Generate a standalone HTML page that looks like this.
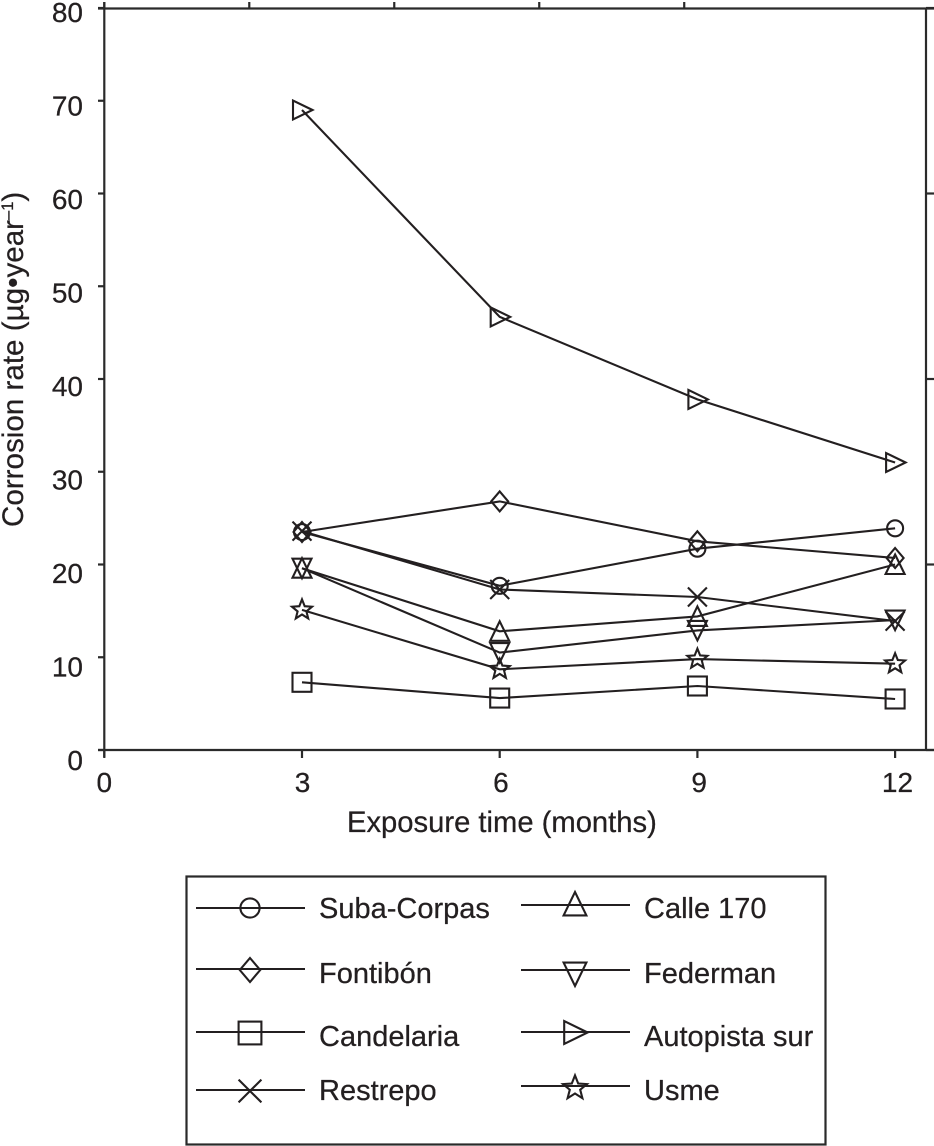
<!DOCTYPE html>
<html lang="en">
<head>
<meta charset="utf-8">
<title>Corrosion rate vs exposure time</title>
<style>
  html, body { margin: 0; padding: 0; background: #fff; }
  svg { display: block; }
  text { font-family: "Liberation Sans", Arial, sans-serif; fill: #231f20; stroke: #231f20; stroke-width: 0.25; }
</style>
</head>
<body>
<svg id="chart" xmlns="http://www.w3.org/2000/svg" width="934" height="1146" viewBox="0 0 934 1146">
  <rect x="0" y="0" width="934" height="1146" fill="#fff"/>
  <g id="axes"></g>
  <g id="series"></g>

  <text x="347" y="832" font-size="29.2">Exposure time (months)</text>
  <text transform="translate(23,527) rotate(-90)" font-size="29.6">Corrosion rate (µg•year<tspan dy="-10" font-size="16.5">–1</tspan><tspan dy="10">)</tspan></text>

  <g>
    <rect x="186.5" y="876.5" width="639" height="268" fill="none" stroke="#2a2a2a" stroke-width="2.2"/>

    <g>
      <line x1="196" x2="305" y1="908" y2="908" stroke="#231f20" stroke-width="2"/>
      <g class="legend-marker" data-kind="circle" data-x="250" data-y="908"></g>
      <text x="319" y="918" font-size="29">Suba-Corpas</text>
    </g>
    <g>
      <line x1="196" x2="305" y1="969" y2="969" stroke="#231f20" stroke-width="2"/>
      <g class="legend-marker" data-kind="diamond" data-x="250" data-y="970"></g>
      <text x="319" y="983" font-size="29">Fontibón</text>
    </g>
    <g>
      <line x1="196" x2="305" y1="1032" y2="1032" stroke="#231f20" stroke-width="2"/>
      <g class="legend-marker" data-kind="square" data-x="250" data-y="1033"></g>
      <text x="319" y="1046" font-size="29">Candelaria</text>
    </g>
    <g>
      <line x1="196" x2="305" y1="1090" y2="1090" stroke="#231f20" stroke-width="2"/>
      <g class="legend-marker" data-kind="cross" data-x="250" data-y="1091"></g>
      <text x="319" y="1100" font-size="29">Restrepo</text>
    </g>

    <g>
      <line x1="521" x2="630" y1="905" y2="905" stroke="#231f20" stroke-width="2"/>
      <g class="legend-marker" data-kind="triUp" data-x="575" data-y="904"></g>
      <text x="644" y="918" font-size="29">Calle 170</text>
    </g>
    <g>
      <line x1="521" x2="630" y1="970" y2="970" stroke="#231f20" stroke-width="2"/>
      <g class="legend-marker" data-kind="triDown" data-x="575" data-y="974"></g>
      <text x="644" y="983" font-size="29">Federman</text>
    </g>
    <g>
      <line x1="521" x2="630" y1="1032" y2="1032" stroke="#231f20" stroke-width="2"/>
      <g class="legend-marker" data-kind="triRight" data-x="575" data-y="1032.5"></g>
      <text x="644" y="1046" font-size="29">Autopista sur</text>
    </g>
    <g>
      <line x1="521" x2="630" y1="1086" y2="1086" stroke="#231f20" stroke-width="2"/>
      <g class="legend-marker" data-kind="star" data-x="575" data-y="1088"></g>
      <text x="644" y="1100" font-size="29">Usme</text>
    </g>
  </g>
</svg>

<script>
// Chart data
const months = [3, 6, 9, 12];
const subaCorpas = [23.5, 17.7, 21.7, 23.9];
const fontibon = [23.5, 26.8, 22.5, 20.7];
const candelaria = [7.3, 5.6, 6.9, 5.5];
const restrepo = [23.6, 17.3, 16.5, 13.9];
const calle170 = [19.6, 12.8, 14.4, 20.0];
const federman = [19.6, 10.5, 12.9, 14.0];
const autopistaSur = [69.0, 46.7, 37.8, 31.0];
const usme = [15.1, 8.7, 9.8, 9.3];

const xTickLabels = [0, 3, 6, 9, 12];
const yTickLabels = [0, 10, 20, 30, 40, 50, 60, 70, 80];
const rightTickValues = [0, 20, 40, 60, 80];
const topTickValues = [0, 2.2, 4.4, 6.6, 8.8];

const NS = 'http://www.w3.org/2000/svg';
const INK = '#231f20';
const AXIS = '#2a2a2a';

function xScale(m) { return 104.3 + 65.9 * m; }
function yScale(v) { return 750 - 9.275 * v; }
function yLabelBaseline(v) { return 770 - 9.35 * v; }

function make(tag, attrs, parent) {
  const el = document.createElementNS(NS, tag);
  for (const k in attrs) el.setAttribute(k, attrs[k]);
  parent.appendChild(el);
  return el;
}

function pts(list) { return list.map(function (p) { return p[0].toFixed(1) + ',' + p[1].toFixed(1); }).join(' '); }

function drawMarker(parent, kind, cx, cy, s) {
  const st = { fill: 'none', stroke: INK, 'stroke-width': 2.1 };
  const at = function (o) { return Object.assign({}, st, o); };
  if (kind === 'circle') {
    make('circle', at({ cx: cx, cy: cy, r: 8 * s }), parent);
  } else if (kind === 'diamond') {
    make('polygon', at({ points: pts([[cx, cy - 10 * s], [cx + 8.5 * s, cy], [cx, cy + 10 * s], [cx - 8.5 * s, cy]]) }), parent);
  } else if (kind === 'square') {
    make('rect', at({ x: cx - 9.5 * s, y: cy - 9.5 * s, width: 19 * s, height: 19 * s }), parent);
  } else if (kind === 'cross') {
    make('path', at({ d: 'M' + (cx - 9.5 * s) + ' ' + (cy - 9.5 * s) + 'L' + (cx + 9.5 * s) + ' ' + (cy + 9.5 * s) + 'M' + (cx + 9.5 * s) + ' ' + (cy - 9.5 * s) + 'L' + (cx - 9.5 * s) + ' ' + (cy + 9.5 * s) }), parent);
  } else if (kind === 'triUp') {
    make('polygon', at({ points: pts([[cx, cy - 10 * s], [cx + 9.5 * s, cy + 9.5 * s], [cx - 9.5 * s, cy + 9.5 * s]]) }), parent);
  } else if (kind === 'triDown') {
    make('polygon', at({ points: pts([[cx, cy + 10 * s], [cx + 9.5 * s, cy - 9.5 * s], [cx - 9.5 * s, cy - 9.5 * s]]) }), parent);
  } else if (kind === 'triRight') {
    make('polygon', at({ points: pts([[cx + 10.5 * s, cy], [cx - 9 * s, cy - 9.5 * s], [cx - 9 * s, cy + 9.5 * s]]) }), parent);
  } else if (kind === 'star') {
    const p = [];
    for (let i = 0; i < 10; i++) {
      const r = (i % 2 === 0 ? 10.5 : 4.6) * s;
      const a = -Math.PI / 2 + i * Math.PI / 5;
      p.push([cx + r * Math.cos(a), cy + r * Math.sin(a)]);
    }
    make('polygon', at({ points: pts(p) }), parent);
  }
}

// Axes
const axes = document.getElementById('axes');
const frame = [
  ['axis-left', 104.3, 2, 104.3, 757],
  ['axis-top', 98, 8.5, 934, 8.5],
  ['axis-bottom', 98, 750, 934, 750],
  ['axis-right', 926, 8.5, 926, 750]
];
frame.forEach(function (f) {
  const l = make('line', { x1: f[1], y1: f[2], x2: f[3], y2: f[4], stroke: AXIS, 'stroke-width': 2.2 }, axes);
  
  
});

yTickLabels.forEach(function (v) {
  const y = yScale(v);
  const t = make('line', { x1: 98, x2: 104, y1: y, y2: y, stroke: AXIS, 'stroke-width': 2.2 }, axes);
  
  
  const lab = make('text', { x: 83, y: yLabelBaseline(v), 'font-size': 28, 'text-anchor': 'end' }, axes);
  lab.textContent = String(v);
  
  
});

xTickLabels.forEach(function (m) {
  const x = xScale(m);
  const t = make('line', { x1: x, x2: x, y1: 750, y2: 758, stroke: AXIS, 'stroke-width': 2.2 }, axes);
  
  
  const lab = make('text', { x: x + m * 0.2, y: 792, 'font-size': 28, 'text-anchor': 'middle' }, axes);
  lab.textContent = String(m);
  
  
});

rightTickValues.forEach(function (v) {
  const y = yScale(v);
  const t = make('line', { x1: 926, x2: 934, y1: y, y2: y, stroke: AXIS, 'stroke-width': 2.2 }, axes);
  
  
});

topTickValues.forEach(function (m) {
  const x = xScale(m);
  const t = make('line', { x1: x, x2: x, y1: 2, y2: 8, stroke: AXIS, 'stroke-width': 2.2 }, axes);
  
  
});

// Series
const seriesRoot = document.getElementById('series');
function drawSeries(name, kind, values) {
  const g = make('g', {}, seriesRoot);
  
  
  const linePts = values.map(function (v, i) { return [xScale(months[i]), yScale(v)]; });
  const line = make('polyline', { points: pts(linePts), fill: 'none', stroke: INK, 'stroke-width': 2.1 }, g);
  
  
  linePts.forEach(function (p) {
    const m = make('g', {}, g);
    
    
    drawMarker(m, kind, p[0], p[1], 1);
  });
}

drawSeries('suba-corpas', 'circle', subaCorpas);
drawSeries('fontibon', 'diamond', fontibon);
drawSeries('candelaria', 'square', candelaria);
drawSeries('restrepo', 'cross', restrepo);
drawSeries('calle-170', 'triUp', calle170);
drawSeries('federman', 'triDown', federman);
drawSeries('autopista-sur', 'triRight', autopistaSur);
drawSeries('usme', 'star', usme);

// Legend markers
document.querySelectorAll('.legend-marker').forEach(function (g) {
  
  
  drawMarker(g, g.getAttribute('data-kind'), parseFloat(g.getAttribute('data-x')), parseFloat(g.getAttribute('data-y')), 1.2);
});
</script>
</body>
</html>
